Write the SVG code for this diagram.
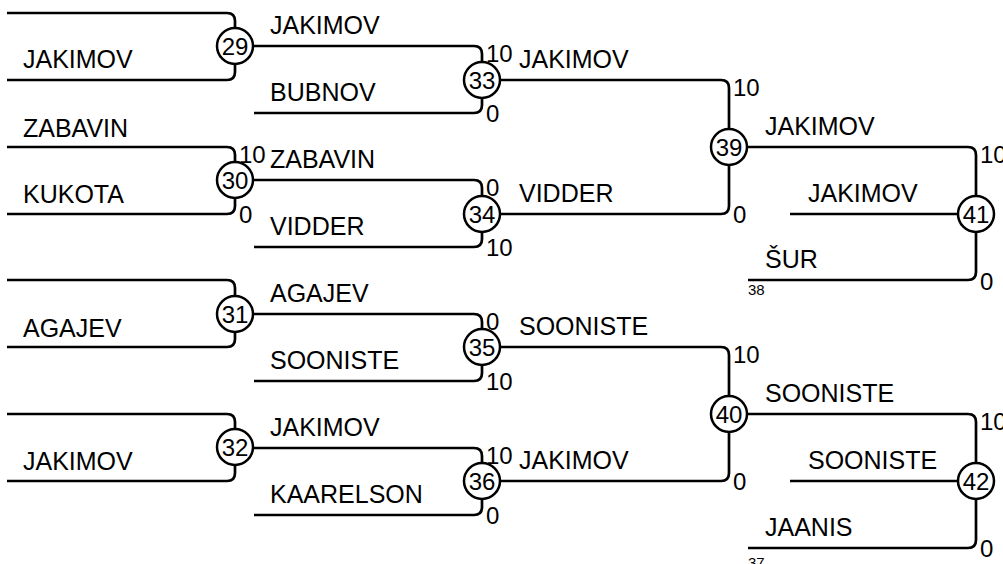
<svg xmlns="http://www.w3.org/2000/svg" width="1003" height="564" viewBox="0 0 1003 564">
<style>
.c{fill:none;stroke:#000;stroke-width:2.7}
.n{fill:#fff;stroke:#000;stroke-width:2.5}
.t{font-family:"Liberation Sans",Arial,sans-serif;font-size:25px;fill:#000}
.s{font-family:"Liberation Sans",Arial,sans-serif;font-size:24px;fill:#000}
.m{font-family:"Liberation Sans",Arial,sans-serif;font-size:24px;fill:#000;text-anchor:middle}
.f{font-family:"Liberation Sans",Arial,sans-serif;font-size:15px;fill:#000}
</style>
<rect width="1003" height="564" fill="#fff"/>
<g id="connectors">
<path class="c" d="M7,13 H227 Q235,13 235,21 V28"/>
<path class="c" d="M7,80 H227 Q235,80 235,72 V64"/>
<path class="c" d="M7,147 H227 Q235,147 235,155 V162"/>
<path class="c" d="M7,214 H227 Q235,214 235,206 V198"/>
<path class="c" d="M7,280 H227 Q235,280 235,288 V296"/>
<path class="c" d="M7,347 H227 Q235,347 235,339 V332"/>
<path class="c" d="M7,414 H227 Q235,414 235,422 V429"/>
<path class="c" d="M7,481 H227 Q235,481 235,473 V465"/>
<path class="c" d="M253,46 H474 Q482,46 482,54 V62"/>
<path class="c" d="M254,113 H474 Q482,113 482,105 V98"/>
<path class="c" d="M253,180 H474 Q482,180 482,188 V196"/>
<path class="c" d="M254,247 H474 Q482,247 482,239 V232"/>
<path class="c" d="M253,314 H474 Q482,314 482,322 V329"/>
<path class="c" d="M254,381 H474 Q482,381 482,373 V365"/>
<path class="c" d="M253,448 H474 Q482,448 482,456 V463"/>
<path class="c" d="M254,515 H474 Q482,515 482,507 V499"/>
<path class="c" d="M500,80 H721 Q729,80 729,88 V129"/>
<path class="c" d="M500,214 H721 Q729,214 729,206 V165"/>
<path class="c" d="M500,347 H721 Q729,347 729,355 V396"/>
<path class="c" d="M500,481 H721 Q729,481 729,473 V432"/>
<path class="c" d="M747,147 H968 Q976,147 976,155 V196"/>
<path class="c" d="M790,214 H958"/>
<path class="c" d="M748,280 H968 Q976,280 976,272 V232"/>
<path class="c" d="M747,414 H968 Q976,414 976,422 V463"/>
<path class="c" d="M790,481 H958"/>
<path class="c" d="M748,548 H968 Q976,548 976,540 V499"/>
</g>
<g id="m29"><circle class="n" cx="235" cy="46" r="18"/><text class="m" x="235" y="54.5">29</text></g>
<g id="m30"><circle class="n" cx="235" cy="180" r="18"/><text class="m" x="235" y="188.5">30</text></g>
<g id="m31"><circle class="n" cx="235" cy="314" r="18"/><text class="m" x="235" y="322.5">31</text></g>
<g id="m32"><circle class="n" cx="235" cy="447" r="18"/><text class="m" x="235" y="455.5">32</text></g>
<g id="m33"><circle class="n" cx="482" cy="80" r="18"/><text class="m" x="482" y="88.5">33</text></g>
<g id="m34"><circle class="n" cx="482" cy="214" r="18"/><text class="m" x="482" y="222.5">34</text></g>
<g id="m35"><circle class="n" cx="482" cy="347" r="18"/><text class="m" x="482" y="355.5">35</text></g>
<g id="m36"><circle class="n" cx="482" cy="481" r="18"/><text class="m" x="482" y="489.5">36</text></g>
<g id="m39"><circle class="n" cx="729" cy="147" r="18"/><text class="m" x="729" y="155.5">39</text></g>
<g id="m40"><circle class="n" cx="729" cy="414" r="18"/><text class="m" x="729" y="422.5">40</text></g>
<g id="m41"><circle class="n" cx="976" cy="214" r="18"/><text class="m" x="976" y="222.5">41</text></g>
<g id="m42"><circle class="n" cx="976" cy="481" r="18"/><text class="m" x="976" y="489.5">42</text></g>
<g id="names">
<text class="t" x="23" y="68">JAKIMOV</text>
<text class="t" x="23" y="137">ZABAVIN</text>
<text class="t" x="23" y="203">KUKOTA</text>
<text class="t" x="23" y="337">AGAJEV</text>
<text class="t" x="23" y="470">JAKIMOV</text>
<text class="t" x="270" y="34">JAKIMOV</text>
<text class="t" x="270" y="101">BUBNOV</text>
<text class="t" x="270" y="168">ZABAVIN</text>
<text class="t" x="270" y="235">VIDDER</text>
<text class="t" x="270" y="302">AGAJEV</text>
<text class="t" x="270" y="369">SOONISTE</text>
<text class="t" x="270" y="436">JAKIMOV</text>
<text class="t" x="270" y="503">KAARELSON</text>
<text class="t" x="519" y="68">JAKIMOV</text>
<text class="t" x="519" y="202">VIDDER</text>
<text class="t" x="519" y="335">SOONISTE</text>
<text class="t" x="519" y="469">JAKIMOV</text>
<text class="t" x="765" y="135">JAKIMOV</text>
<text class="t" x="808" y="202">JAKIMOV</text>
<text class="t" x="765" y="268">ŠUR</text>
<text class="t" x="765" y="402">SOONISTE</text>
<text class="t" x="808" y="469">SOONISTE</text>
<text class="t" x="765" y="536">JAANIS</text>
<text class="f" x="748" y="295">38</text>
<text class="f" x="748" y="568">37</text>
</g>
<g id="scores">
<text class="s" x="239" y="163">10</text>
<text class="s" x="239" y="223">0</text>
<text class="s" x="486" y="62">10</text>
<text class="s" x="486" y="122">0</text>
<text class="s" x="486" y="196">0</text>
<text class="s" x="486" y="256">10</text>
<text class="s" x="486" y="330">0</text>
<text class="s" x="486" y="390">10</text>
<text class="s" x="486" y="464">10</text>
<text class="s" x="486" y="524">0</text>
<text class="s" x="733" y="96">10</text>
<text class="s" x="733" y="223">0</text>
<text class="s" x="733" y="363">10</text>
<text class="s" x="733" y="490">0</text>
<text class="s" x="980" y="163">10</text>
<text class="s" x="980" y="290">0</text>
<text class="s" x="980" y="430">10</text>
<text class="s" x="980" y="557">0</text>
</g>
</svg>
